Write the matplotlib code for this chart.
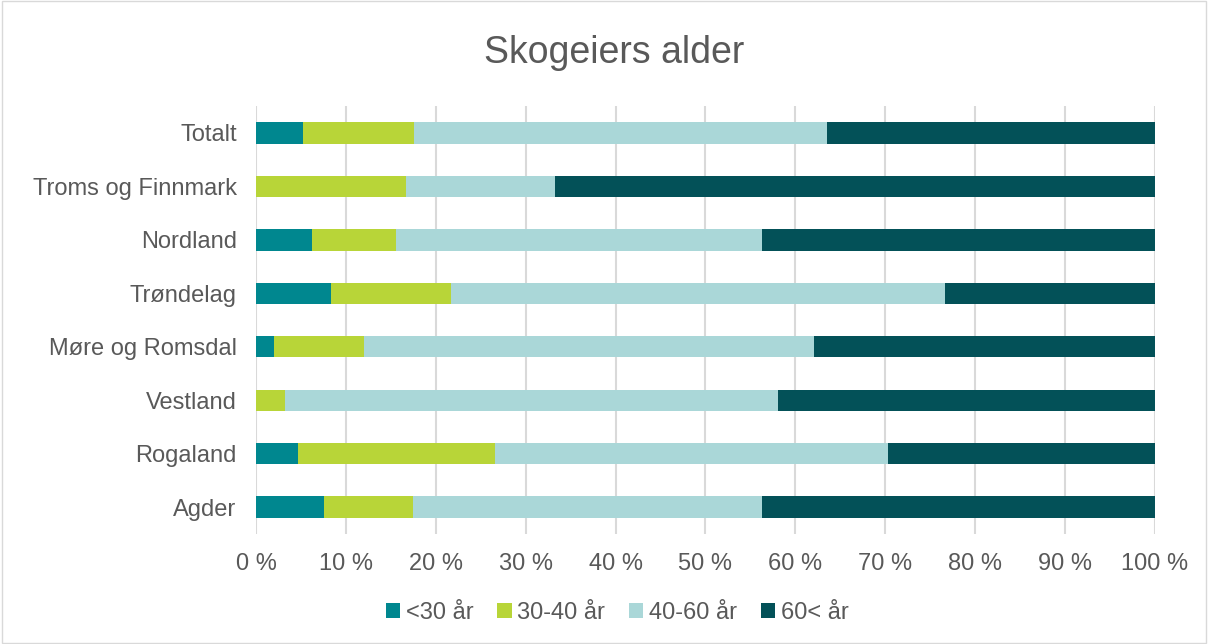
import numpy as np
import matplotlib.pyplot as plt
from matplotlib.patches import Rectangle

plt.rcParams['font.family'] = ['Liberation Sans', 'DejaVu Sans']

# data (percent), top to bottom as shown
regions = ['Totalt', 'Troms og Finnmark', 'Nordland', 'Trøndelag',
           'Møre og Romsdal', 'Vestland', 'Rogaland', 'Agder']
under30 = [5.2, 0.0, 6.2, 8.3, 2.0, 0.0, 4.7, 7.5]
age30_40 = [12.4, 16.7, 9.4, 13.4, 10.0, 3.2, 21.9, 10.0]
age40_60 = [45.9, 16.6, 40.7, 55.0, 50.1, 54.9, 43.7, 38.8]
over60 = [36.5, 66.7, 43.7, 23.3, 37.9, 41.9, 29.7, 43.7]
series_names = ['<30 år', '30-40 år', '40-60 år', '60< år']
colors = ['#00878F', '#B8D538', '#AAD7D8', '#035158']

fig = plt.figure(figsize=(12.08, 6.44), dpi=100)
ax = fig.add_axes([0.212, 0.171, 0.744, 0.664])

# outer border like the Excel chart area
fig.patches.append(Rectangle((0.002, 0.002), 0.996, 0.996, transform=fig.transFigure,
                             fill=False, edgecolor='#D9D9D9', linewidth=1))

y = np.arange(len(regions))
left = np.zeros(len(regions))
for vals, name, c in zip([under30, age30_40, age40_60, over60], series_names, colors):
    ax.barh(y, vals, left=left, height=0.4, color=c, label=name, zorder=3)
    left += np.array(vals)

ax.set_xlim(0, 100)
ax.set_ylim(len(regions) - 0.5, -0.5)
ax.set_yticks(y)
ax.set_yticklabels(regions)
ax.set_xticks(np.arange(0, 101, 10))
ax.set_xticklabels([f'{v} %' for v in range(0, 101, 10)])
ax.tick_params(axis='both', length=0, labelsize=17, colors='#595959')
ax.tick_params(axis='x', pad=14)
ax.tick_params(axis='y', pad=14)
ax.xaxis.grid(True, color='#D9D9D9', linewidth=1.5, zorder=0)
ax.set_axisbelow(True)
for s in ax.spines.values():
    s.set_visible(False)

fig.text(0.508, 0.918, 'Skogeiers alder', ha='center', va='center', fontsize=27, color='#595959')

handles, labels = ax.get_legend_handles_labels()
fig.legend(handles, labels, loc='center', bbox_to_anchor=(0.511, 0.048), ncol=4, frameon=False,
           fontsize=17, labelcolor='#595959', handlelength=0.6, handleheight=0.6,
           handletextpad=0.25, columnspacing=1.0)

fig.savefig('out.png', dpi=100)
